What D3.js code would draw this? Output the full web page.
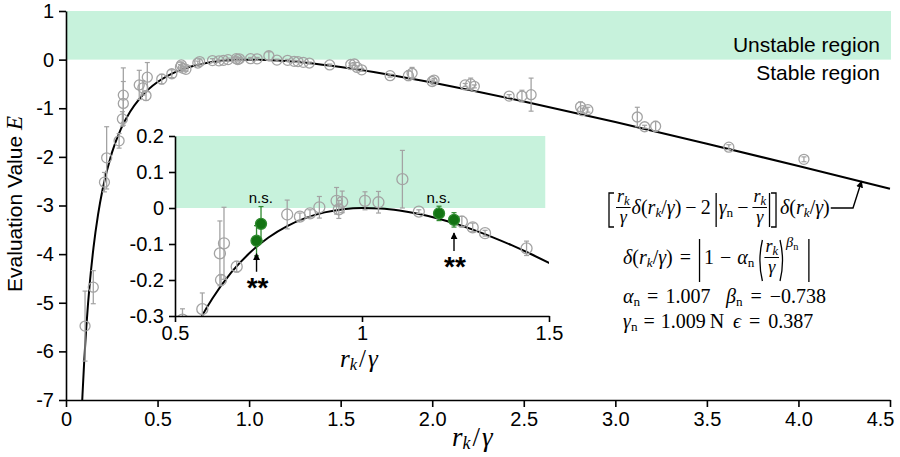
<!DOCTYPE html>
<html>
<head>
<meta charset="utf-8">
<script src="https://cdn.jsdelivr.net/npm/d3@7"></script>
<style>
body { margin: 0; background: #fff; }
svg { display: block; font-family: "Liberation Sans", Arial, sans-serif; }
.axis path, .axis line { stroke: #000; stroke-width: 1.6; }
.axis text { font-size: 20px; fill: #000; font-family: "Liberation Sans", Arial, sans-serif; }
.math { font-family: "Liberation Serif", "Times New Roman", serif; fill: #000; }
</style>
</head>
<body>
<svg width="900" height="457"></svg>
<script>
// **** data ****

// fitted model curve, E against r_k/gamma
var fitX = [0.088, 0.09, 0.10, 0.11, 0.12, 0.13, 0.15, 0.175, 0.20, 0.25, 0.30, 0.35, 0.40, 0.45, 0.50,
    0.56, 0.60, 0.65, 0.70, 0.75, 0.80, 0.85, 0.90, 0.95, 1.00, 1.05, 1.10, 1.15, 1.20, 1.25, 1.30,
    1.35, 1.40, 1.45, 1.50, 1.75, 2.00, 2.25, 2.50, 3.00, 3.50, 4.00, 4.50];
var fitE = [-7.061, -6.896, -6.163, -5.554, -5.037, -4.593, -3.872, -3.187, -2.666, -1.923, -1.424, -1.071, -0.810, -0.612, -0.461,
    -0.323, -0.2515, -0.1798, -0.1244, -0.0819, -0.0502, -0.0275, -0.0122, -0.0034, -0.0001, -0.0015, -0.0070, -0.0162, -0.0285, -0.0437, -0.0614,
    -0.0814, -0.1033, -0.1271, -0.1525, -0.2997, -0.4713, -0.6596, -0.8598, -1.2842, -1.7296, -2.1883, -2.6561];

// measured points in the main plot
var mainX = [0.104, 0.149, 0.21, 0.222, 0.29, 0.308, 0.313, 0.313, 0.40, 0.42, 0.437, 0.444, 0.523, 0.578,
    0.625, 0.63, 0.64, 0.655, 0.72, 0.73, 0.80, 0.835, 0.86, 0.885, 0.93, 0.938, 0.947, 1.008, 1.044, 1.108,
    1.152, 1.21, 1.246, 1.267, 1.296, 1.329, 1.44, 1.555, 1.575, 1.59, 1.615, 1.77, 1.87, 1.89, 2.0, 2.01,
    2.18, 2.21, 2.23, 2.42, 2.49, 2.54, 2.81, 2.82, 2.85, 3.12, 3.16, 3.22, 3.62, 4.03];
var mainE = [-5.48, -4.68, -2.52, -2.02, -1.67, -1.22, -0.90, -0.73, -0.52, -0.58, -0.74, -0.36, -0.40, -0.29,
    -0.15, -0.11, -0.18, -0.20, -0.07, -0.04, -0.02, -0.025, -0.015, 0.0, 0.02, 0.0, 0.017, 0.02, 0.016, 0.08,
    -0.01, -0.015, -0.035, -0.04, -0.055, -0.07, -0.11, -0.10, -0.09, -0.16, -0.21, -0.33, -0.33, -0.28, -0.45, -0.42,
    -0.52, -0.50, -0.55, -0.75, -0.75, -0.72, -0.97, -1.05, -1.03, -1.18, -1.38, -1.37, -1.80, -2.05];
var mainErr = [0.72, 0.34, 0.2, 0.64, 0.15, 0.15, 0.45, 0.56, 0.3, 0.15, 0.1, 0.3, 0.1, 0.08,
    0.05, 0.06, 0.04, 0.04, 0.04, 0.05, 0.04, 0.02, 0.02, 0.03, 0.04, 0.03, 0.03, 0.025, 0.03, 0.08,
    0.02, 0.02, 0.02, 0.02, 0.02, 0.02, 0.02, 0.03, 0.03, 0.03, 0.03, 0.03, 0.1, 0.12, 0.03, 0.03,
    0.03, 0.12, 0.03, 0.03, 0.12, 0.34, 0.1, 0.05, 0.05, 0.2, 0.03, 0.1, 0.05, 0.05];

// inset: grey points
var insetX = [0.52, 0.573, 0.62, 0.631, 0.623, 0.665, 0.80, 0.834, 0.861, 0.886, 0.932, 0.938, 0.947,
    1.008, 1.044, 1.108, 1.152, 1.267, 1.296, 1.329, 1.44];
var insetE = [-0.31, -0.281, -0.126, -0.098, -0.20, -0.163, -0.018, -0.024, -0.015, 0.002, 0.02, -0.004, 0.017,
    0.02, 0.016, 0.08, -0.01, -0.038, -0.054, -0.07, -0.112];
var insetErr = [0.03, 0.045, 0.09, 0.1, 0.015, 0.015, 0.04, 0.01, 0.01, 0.03, 0.037, 0.025, 0.03,
    0.025, 0.03, 0.08, 0.005, 0.015, 0.012, 0.008, 0.02];

// inset: green points (tested against the fit)
var sigX = [0.718, 0.73, 1.206, 1.246];
var sigE = [-0.091, -0.044, -0.015, -0.033];
var sigErr = [0.042, 0.048, 0.02, 0.02];
var sigLabels = ["n.s.", "**"];

// tick labels
var mainXTicks = [0, 0.5, 1.0, 1.5, 2.0, 2.5, 3.0, 3.5, 4.0, 4.5];
var mainYTicks = [1, 0, -1, -2, -3, -4, -5, -6, -7];
var insetXTicks = [0.5, 1, 1.5];
var insetYTicks = [0.2, 0.1, 0, -0.1, -0.2, -0.3];

// **** scales ****
var svg = d3.select("svg");
var band = "#c7f2dc";

var x = d3.scaleLinear().domain([0, 4.5]).range([66, 890]);
var y = d3.scaleLinear().domain([-7, 1]).range([400, 11]);
var xi = d3.scaleLinear().domain([0.5, 1.5]).range([175, 549]);
var yi = d3.scaleLinear().domain([-0.3, 0.2]).range([316, 136]);

var fit = fitX.map(function (v, i) { return {x: v, e: fitE[i]}; });

var defs = svg.append("defs");
defs.append("clipPath").attr("id", "clipMain").append("rect")
    .attr("x", 66).attr("y", 11).attr("width", 826).attr("height", 389);
defs.append("clipPath").attr("id", "clipInset").append("rect")
    .attr("x", 175).attr("y", 136).attr("width", 374).attr("height", 180);
defs.append("marker").attr("id", "arr").attr("viewBox", "0 0 10 10")
    .attr("refX", 9).attr("refY", 5).attr("markerWidth", 7).attr("markerHeight", 7)
    .attr("markerUnits", "userSpaceOnUse").attr("orient", "auto")
    .append("path").attr("d", "M0,0 L10,5 L0,10 z").attr("fill", "#000");

// **** helpers ****
function drawPoints(g, xs, ys, es, sx, sy, col, fillCol, r) {
    var d = xs.map(function (v, i) { return {x: v, e: ys[i], s: es[i]}; });
    var p = g.append("g");
    p.selectAll("line.eb").data(d).join("line").attr("class", "eb")
        .attr("x1", function (d) { return sx(d.x); }).attr("x2", function (d) { return sx(d.x); })
        .attr("y1", function (d) { return sy(d.e + d.s); }).attr("y2", function (d) { return sy(d.e - d.s); })
        .attr("stroke", col).attr("stroke-width", 1.3);
    [1, -1].forEach(function (k) {
        p.selectAll("line.cap" + k).data(d).join("line")
            .attr("x1", function (d) { return sx(d.x) - 2.5; }).attr("x2", function (d) { return sx(d.x) + 2.5; })
            .attr("y1", function (d) { return sy(d.e + k * d.s); }).attr("y2", function (d) { return sy(d.e + k * d.s); })
            .attr("stroke", col).attr("stroke-width", 1.2);
    });
    p.selectAll("circle").data(d).join("circle")
        .attr("cx", function (d) { return sx(d.x); }).attr("cy", function (d) { return sy(d.e); })
        .attr("r", r).attr("fill", fillCol).attr("stroke", col).attr("stroke-width", 1.3);
}

function mathRow(g, x0, base, size, items) {
    var cx = x0;
    items.forEach(function (it) {
        if (it.gap) { cx += it.gap; return; }
        if (it.bar) {
            g.append("line").attr("x1", cx + 1.5).attr("x2", cx + 1.5).attr("y1", it.bar[0]).attr("y2", it.bar[1])
                .attr("stroke", "#000").attr("stroke-width", 1.3);
            cx += 3; return;
        }
        if (it.lb || it.rb) {
            var b = it.lb || it.rb, a = it.lb ? cx + 6 : cx, c = it.lb ? cx + 1 : cx + 5;
            g.append("path").attr("d", "M" + a + "," + b[0] + "H" + c + "V" + b[1] + "H" + a)
                .attr("fill", "none").attr("stroke", "#000").attr("stroke-width", 1.3);
            cx += 7; return;
        }
        if (it.lp || it.rp) {
            var q = it.lp || it.rp, mid = (q[0] + q[1]) / 2;
            var e0 = it.lp ? cx + 5 : cx + 1, e1 = it.lp ? cx : cx + 6;
            g.append("path").attr("d", "M" + e0 + "," + q[0] + "Q" + e1 + "," + mid + " " + e0 + "," + q[1])
                .attr("fill", "none").attr("stroke", "#000").attr("stroke-width", 1.3);
            cx += 7; return;
        }
        if (it.frac) {
            var fs = size * 0.9;
            var num = g.append("text").attr("class", "math").attr("y", base - 12).attr("font-size", fs);
            num.append("tspan").attr("font-style", "italic").text("r");
            num.append("tspan").attr("font-style", "italic").attr("font-size", fs * 0.7).attr("dy", 3).text("k");
            var den = g.append("text").attr("class", "math").attr("y", base + 9).attr("font-size", fs)
                .attr("font-style", "italic").text("γ");
            var wn = num.node().getComputedTextLength(), wd = den.node().getComputedTextLength();
            var w = Math.max(wn, wd) + 2;
            num.attr("x", cx + (w - wn) / 2);
            den.attr("x", cx + (w - wd) / 2);
            g.append("line").attr("x1", cx).attr("x2", cx + w).attr("y1", base - 6.5).attr("y2", base - 6.5)
                .attr("stroke", "#000").attr("stroke-width", 1);
            cx += w; return;
        }
        var fsz = size, yy = base;
        if (it.sub) { fsz = size * 0.66; yy = base + 3; }
        if (it.sup) { fsz = size * 0.72; yy = base - 17; }
        if (it.supsub) { fsz = size * 0.52; yy = base - 14; }
        var t = g.append("text").attr("class", "math").attr("x", cx).attr("y", yy)
            .attr("font-size", fsz).attr("font-style", it.i ? "italic" : "normal").text(it.t);
        cx += t.node().getComputedTextLength();
    });
    return cx;
}

var rk = [{t: "(", i: 0}, {t: "r", i: 1}, {t: "k", i: 1, sub: 1}, {t: "/", i: 0}, {t: "γ", i: 1}, {t: ")", i: 0}];
function delta() { return [{t: "δ", i: 1}].concat(rk); }

// **** main plot ****
var main = svg.append("g");
main.append("rect").attr("x", x(0)).attr("y", y(1)).attr("width", x(4.5) - x(0) + 1).attr("height", y(0) - y(1))
    .attr("fill", band);

main.append("text").attr("x", 880).attr("y", 52).attr("text-anchor", "end").attr("font-size", 21)
    .text("Unstable region");
main.append("text").attr("x", 880).attr("y", 80).attr("text-anchor", "end").attr("font-size", 21)
    .text("Stable region");

main.append("path").datum(fit).attr("clip-path", "url(#clipMain)")
    .attr("fill", "none").attr("stroke", "#000").attr("stroke-width", 2)
    .attr("d", d3.line().x(function (d) { return x(d.x); }).y(function (d) { return y(d.e); }).curve(d3.curveMonotoneX));

drawPoints(main, mainX, mainE, mainErr, x, y, "#a3a3a3", "none", 5);

var xAxis = main.append("g").attr("class", "axis").attr("transform", "translate(0,400)")
    .call(d3.axisBottom(x).tickValues(mainXTicks).tickSize(7).tickSizeOuter(0).tickPadding(5)
        .tickFormat(function (d) { return d === 0 ? "0" : d.toFixed(1); }));
// last label sits against the right edge
xAxis.selectAll(".tick text").filter(function (d) { return d === 4.5; })
    .attr("text-anchor", "end").attr("x", 4);
main.append("g").attr("class", "axis").attr("transform", "translate(66,0)")
    .call(d3.axisLeft(y).tickValues(mainYTicks).tickSize(7).tickSizeOuter(0).tickPadding(5)
        .tickFormat(function (d) { return String(d); }));

var yl = main.append("text").attr("transform", "translate(22,204) rotate(-90)")
    .attr("text-anchor", "middle").attr("font-size", 21);
yl.append("tspan").text("Evaluation Value ");
yl.append("tspan").attr("class", "math").attr("font-style", "italic").attr("font-size", 23).text("E");

mathRow(main.append("g"), 452, 446, 27, [{t: "r", i: 1}, {t: "k", i: 1, sub: 1}, {gap: 2}, {t: "/", i: 0}, {gap: 2}, {t: "γ", i: 1}]);

// **** inset ****
var inset = svg.append("g");
inset.append("rect").attr("x", xi(0.5)).attr("y", yi(0.2)).attr("width", xi(1.49) - xi(0.5)).attr("height", yi(0) - yi(0.2))
    .attr("fill", band);
var ic = inset.append("g").attr("clip-path", "url(#clipInset)");
ic.append("path").datum(fit)
    .attr("fill", "none").attr("stroke", "#000").attr("stroke-width", 2)
    .attr("d", d3.line().x(function (d) { return xi(d.x); }).y(function (d) { return yi(d.e); }).curve(d3.curveMonotoneX));
drawPoints(ic, insetX, insetE, insetErr, xi, yi, "#a3a3a3", "none", 5.5);
drawPoints(ic, sigX, sigE, sigErr, xi, yi, "#2f8a2f", "#137313", 5.5);

// significance marks
[[0, 1], [2, 3]].forEach(function (pair) {
    var first = pair[0] === 0;
    var nsX = (xi(sigX[pair[0]]) + xi(sigX[pair[1]])) / 2 + (first ? 2 : -8);
    inset.append("text").attr("x", nsX).attr("y", 203).attr("text-anchor", "middle").attr("font-size", 15)
        .text(sigLabels[0]);
    var k = first ? pair[0] : pair[1];
    var ax = xi(sigX[k]), ay = yi(sigE[k]);
    inset.append("line").attr("x1", ax).attr("x2", ax).attr("y1", ay + 31).attr("y2", ay + 13)
        .attr("stroke", "#000").attr("stroke-width", 1.4).attr("marker-end", "url(#arr)");
    inset.append("text").attr("x", ax + 1).attr("y", ay + 56).attr("text-anchor", "middle")
        .attr("font-size", 28).attr("font-weight", "bold").text(sigLabels[1]);
});

inset.append("g").attr("class", "axis").attr("transform", "translate(0,316)")
    .call(d3.axisBottom(xi).tickValues(insetXTicks).tickSize(6).tickSizeOuter(0).tickPadding(4)
        .tickFormat(function (d) { return String(d); }));
inset.append("g").attr("class", "axis").attr("transform", "translate(175,0)")
    .call(d3.axisLeft(yi).tickValues(insetYTicks).tickSize(6).tickSizeOuter(0).tickPadding(5)
        .tickFormat(function (d) { return String(d); }));

mathRow(inset.append("g"), 340, 367, 25, [{t: "r", i: 1}, {t: "k", i: 1, sub: 1}, {gap: 2}, {t: "/", i: 0}, {gap: 2}, {t: "γ", i: 1}]);

// **** model formula ****
var fg = svg.append("g");
var endX = mathRow(fg, 608, 214, 20, [
    {lb: [193, 227]}, {gap: 1}, {frac: 1}, {gap: 1}].concat(delta(), [
    {gap: 4}, {t: "−"}, {gap: 4}, {t: "2"}, {gap: 4}, {bar: [193, 227]}, {gap: 1},
    {t: "γ", i: 1}, {t: "n", sub: 1}, {gap: 4}, {t: "−"}, {gap: 4}, {frac: 1}, {gap: 1},
    {bar: [193, 227]}, {rb: [193, 227]}, {gap: 2}], delta()));

fg.append("polyline").attr("points", [[endX + 1, 208], [853, 208], [x(4.35) - 1, y(-2.50)]].join(" "))
    .attr("fill", "none").attr("stroke", "#000").attr("stroke-width", 1.4).attr("marker-end", "url(#arr)");

mathRow(fg, 623, 264, 20, delta().concat([
    {gap: 7}, {t: "="}, {gap: 7}, {bar: [239, 282]}, {gap: 3}, {t: "1"}, {gap: 6}, {t: "−"}, {gap: 6},
    {t: "α", i: 1}, {t: "n", sub: 1}, {gap: 3}, {lp: [240, 281]}, {frac: 1}, {rp: [240, 281]},
    {t: "β", i: 1, sup: 1}, {t: "n", supsub: 1}, {gap: 9}, {bar: [239, 282]}]));

mathRow(fg, 623, 303, 20, [{t: "α", i: 1}, {t: "n", sub: 1}, {gap: 7}, {t: "="}, {gap: 7}, {t: "1.007"}]);
mathRow(fg, 726, 303, 20, [{t: "β", i: 1}, {t: "n", sub: 1}, {gap: 8}, {t: "="}, {gap: 8}, {t: "−0.738"}]);
mathRow(fg, 623, 328, 20, [{t: "γ", i: 1}, {t: "n", sub: 1}, {gap: 6}, {t: "="}, {gap: 6}, {t: "1.009"}, {gap: 4}, {t: "N"}]);
mathRow(fg, 733, 328, 20, [{t: "ϵ", i: 1}, {gap: 8}, {t: "="}, {gap: 8}, {t: "0.387"}]);
</script>
</body>
</html>
